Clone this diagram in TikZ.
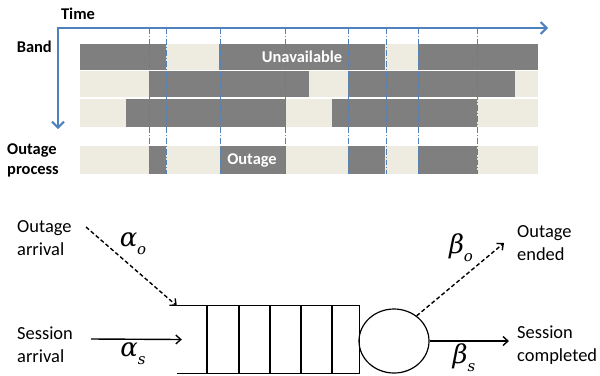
\documentclass[tikz,border=0pt]{standalone}
\usepackage{fontspec}
\setmainfont{Carlito}
\newfontfamily\ratefont{DejaVu Serif}
\newcommand{\ratesym}[2]{{\ratefont\itshape #1\raisebox{-0.3em}{\fontsize{15}{15}\selectfont #2}}}
\usetikzlibrary{arrows.meta,shapes.geometric}
\definecolor{bandgray}{HTML}{7F7F7F}
\definecolor{bandfree}{HTML}{EEECE1}
\definecolor{axisblue}{HTML}{4F81BD}
\begin{document}
\begin{tikzpicture}
	[x=1bp,y=-1bp,
	lbl/.style = {font=\fontsize{16.5}{20}\selectfont\bfseries, inner sep=0pt},
	qlbl/.style = {font=\fontsize{18.5}{23}\selectfont, align=left, anchor=west, inner sep=0pt},
	rate/.style = {font=\fontsize{26}{26}\selectfont, inner sep=0pt},
	cut/.style = {axisblue, line width=0.8pt, dash pattern=on 6pt off 2pt on 1pt off 2pt},
	flow/.style = {-{Straight Barb[length=5pt,width=9pt]}, line width=1.4pt},
	brk/.style = {dash pattern=on 4pt off 2.5pt}]
	\useasboundingbox (0,0) rectangle (600,375);
	% bands and outage process
	\foreach \top/\bot in {44/70, 71/97, 99/127, 146/174}
		\fill[bandfree] (80,\top) rectangle (538,\bot);
	\foreach \top/\bot/\a/\b in {44/70/80/166, 44/70/219/385, 44/70/418/538,
		71/97/149/309, 71/97/348/515,
		99/127/126/286, 99/127/332/477,
		146/174/149/166, 146/174/220/286, 146/174/348/385, 146/174/418/477}
		\fill[bandgray] (\a,\top) rectangle (\b,\bot);
	\foreach \x in {149,166,220,285,348,386,418,477}
		\draw[cut] (\x,28) -- (\x,174);
	% time axis
	\coordinate (origin) at (58,28);
	\coordinate (tend) at (548,28);
	\coordinate (bend) at (58,129);
	\draw[axisblue, line width=2pt, >={Straight Barb[length=6pt,width=12pt]}, <->] (bend) -- (origin) -- (tend);
	\node[lbl, name=time] at (78,14) {Time};
	\node[lbl, name=band, anchor=east] at (52,47) {Band};
	\node[lbl, name=outproc, align=left, anchor=west] at (7,160) {Outage\\process};
	\node[lbl, name=unav, white] at (302,57) {Unavailable};
	\node[lbl, name=outage, white] at (252,160) {Outage};
	% queue
	\node[name=queue, minimum width=182bp, minimum height=67bp, inner sep=0pt] at (268,339.5) {};
	\draw[line width=1.2pt] (queue.north west) -- (queue.north east) -- (queue.south east) -- (queue.south west);
	\foreach \x in {207,239,270,301,332}
		\draw[line width=1.2pt] (\x,306) -- (\x,373);
	\node[name=server, ellipse, draw, line width=1.2pt, minimum width=70bp, minimum height=64bp, inner sep=0pt] at (394,341) {};
	\node[qlbl, name=oarr] at (17,238) {Outage\\arrival};
	\node[qlbl, name=sarr] at (17,345) {Session\\arrival};
	\node[qlbl, name=oend] at (517,243) {Outage\\ended};
	\node[qlbl, name=sdone] at (517,345) {Session\\completed};
	\coordinate (oin) at (86,227);
	\coordinate (sin) at (91,339);
	\coordinate (oout) at (504,243);
	\coordinate (sout) at (509,341);
	\draw[flow, brk] (oin) -- (queue.north west);
	\draw[flow] (sin) -- ([xshift=5bp]queue.west);
	\draw[flow, brk] (server.48) -- (oout);
	\draw[flow] (server.east) -- (sout);
	\node[rate, name=ao] at (133,244) {\ratesym{α}{o}};
	\node[rate, name=as] at (133,354) {\ratesym{α}{s}};
	\node[rate, name=bo] at (461,248) {\ratesym{β}{o}};
	\node[rate, name=bs] at (464,358) {\ratesym{β}{s}};
\end{tikzpicture}
\end{document}
